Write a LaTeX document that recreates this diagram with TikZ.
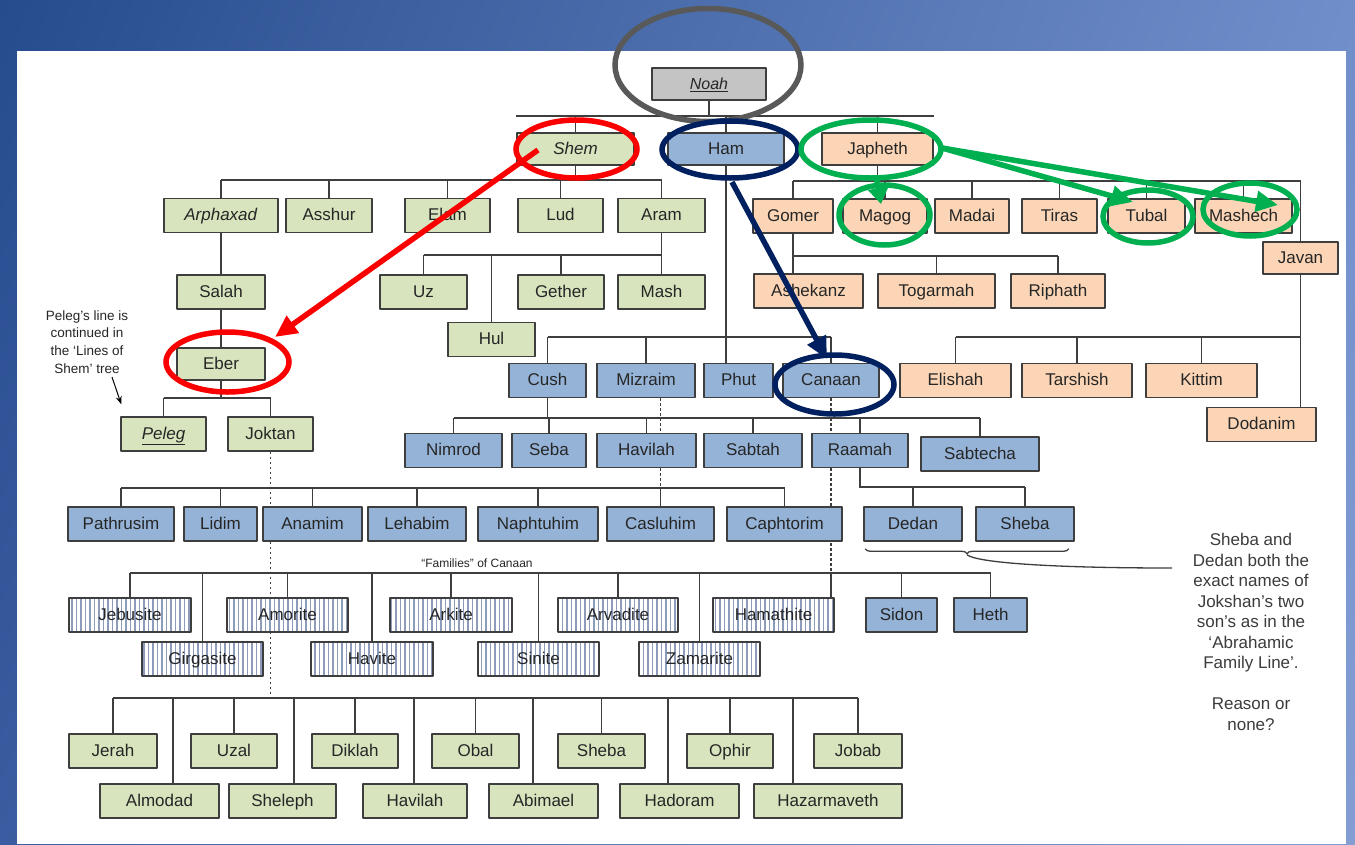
\documentclass[tikz,border=0pt]{standalone}
\usepackage{fontspec}
\setmainfont{Liberation Sans}
\usetikzlibrary{shapes.geometric,arrows.meta,patterns.meta,decorations.pathreplacing,shadings}
\definecolor{bgul}{RGB}{38,76,142}
\definecolor{bgur}{RGB}{112,142,202}
\definecolor{bgll}{RGB}{58,92,160}
\definecolor{bglr}{RGB}{132,158,212}
\definecolor{shemfill}{RGB}{215,228,189}
\definecolor{hamfill}{RGB}{149,179,215}
\definecolor{japhfill}{RGB}{251,213,181}
\definecolor{noahfill}{RGB}{196,196,196}
\definecolor{stripe}{RGB}{140,156,186}
\definecolor{edge}{RGB}{62,62,62}
\definecolor{ink}{RGB}{38,38,38}
\definecolor{ringgray}{RGB}{89,89,89}
\definecolor{ringred}{RGB}{250,0,0}
\definecolor{ringnavy}{RGB}{0,32,96}
\definecolor{ringgreen}{RGB}{0,176,80}
\pgfdeclarelayer{back}
\pgfdeclarelayer{lines}
\pgfdeclarelayer{front}
\pgfsetlayers{back,lines,main,front}
\begin{document}
\begin{tikzpicture}[x=1pt, y=-1pt, line join=round,
    namebox/.style={draw=edge, line width=1.5pt, minimum height=34, inner sep=0pt, text height=12.5pt, text depth=2pt, text=ink, font=\fontsize{17}{20}\selectfont},
    shembox/.style={namebox, fill=shemfill},
    hambox/.style={namebox, fill=hamfill},
    japhbox/.style={namebox, fill=japhfill},
    clanbox/.style={namebox, preaction={fill=white}, pattern={Lines[angle=90, distance=4.5pt, line width=1.7pt]}, pattern color=stripe},
    link/.style={draw=edge, line width=1.5pt},
    dotlink/.style={link, dash pattern=on 2.5pt off 2.5pt},
    ring/.style={draw=#1, line width=5.5pt, ellipse, inner sep=0pt},
    pointer/.style={draw=#1, line width=5.5pt, -{Triangle[length=22pt, width=20pt]}}]
\useasboundingbox (0,0) rectangle (1355,844);
\begin{pgfonlayer}{back}
  \shade[upper left=bgul, upper right=bgur, lower left=bgll, lower right=bglr] (0,0) rectangle (1355,844);
  \fill[white] (17,51) rectangle (1346,844);
\end{pgfonlayer}

% Noah and his sons
\node[namebox, fill=noahfill, minimum width=114, minimum height=32, font=\fontsize{16}{19}\selectfont] (noah) at (709,84) {\underline{\textit{Noah}}};
\node[shembox, minimum width=117, minimum height=32] (shem) at (575.5,149) {\textit{Shem}};
\node[hambox, minimum width=116, minimum height=32] (ham) at (726,149) {Ham};
\node[japhbox, minimum width=111, minimum height=32] (japheth) at (877.5,149) {Japheth};

% line of Shem
\foreach \n/\x/\w/\lbl in {arphaxad/221/114/\textit{Arphaxad}, asshur/329/86/Asshur, elam/447.5/85/Elam, lud/560.5/85/Lud, aram/661.5/87/Aram}
  \node[shembox, minimum width=\w] (\n) at (\x,215.5) {\lbl};
\foreach \n/\x/\w/\lbl in {salah/221/88/Salah, uz/423.5/87/Uz, gether/561/86/Gether, mash/661.5/87/Mash}
  \node[shembox, minimum width=\w] (\n) at (\x,292) {\lbl};
\node[shembox, minimum width=87] (hul) at (491.5,339.5) {Hul};
\node[shembox, minimum width=88, minimum height=32] (eber) at (221,364) {Eber};
\node[shembox, minimum width=85] (peleg) at (163.5,434) {\underline{\textit{Peleg}}};
\node[shembox, minimum width=85] (joktan) at (270.5,434) {Joktan};
\foreach \n/\x/\w/\lbl in {jerah/113/88/Jerah, uzal/234/86/Uzal, diklah/355/86/Diklah, obal/475.5/87/Obal, shebaj/601.5/87/Sheba, ophir/730/86/Ophir, jobab/858/88/Jobab}
  \node[shembox, minimum width=\w] (\n) at (\x,751) {\lbl};
\foreach \n/\x/\w/\lbl in {almodad/159.5/119/Almodad, sheleph/282.5/107/Sheleph, havilahj/415/104/Havilah, abimael/543.5/109/Abimael, hadoram/679.5/119/Hadoram, hazarmaveth/828/148/Hazarmaveth}
  \node[shembox, minimum width=\w] (\n) at (\x,801) {\lbl};

% line of Ham
\foreach \n/\x/\w/\lbl in {cush/547.5/77/Cush, mizraim/646/98/Mizraim, phut/738.5/69/Phut, canaan/831/96/Canaan}
  \node[hambox, minimum width=\w] (\n) at (\x,380.5) {\lbl};
\foreach \n/\x/\w/\lbl in {nimrod/453.5/97/Nimrod, seba/549/74/Seba, havilahc/646.5/99/Havilah, sabtah/753/98/Sabtah, raamah/860/96/Raamah}
  \node[hambox, minimum width=\w] (\n) at (\x,450.5) {\lbl};
\node[hambox, minimum width=118] (sabtecha) at (980,454) {Sabtecha};
\foreach \n/\x/\w/\lbl in {pathrusim/121/106/Pathrusim, lidim/220.5/73/Lidim, anamim/312.5/99/Anamim, lehabim/417/98/Lehabim, naphtuhim/538/120/Naphtuhim, casluhim/660.5/107/Casluhim, caphtorim/784.5/115/Caphtorim, dedan/913/98/Dedan, shebar/1025/98/Sheba}
  \node[hambox, minimum width=\w] (\n) at (\x,524) {\lbl};
\foreach \n/\x/\w/\lbl in {jebusite/130/122/Jebusite, amorite/287.5/121/Amorite, arkite/451/122/Arkite, arvadite/618/120/Arvadite, hamathite/773.5/121/Hamathite}
  \node[clanbox, minimum width=\w] (\n) at (\x,615) {\lbl};
\node[hambox, minimum width=71] (sidon) at (901.5,615) {Sidon};
\node[hambox, minimum width=73] (heth) at (990.5,615) {Heth};
\foreach \n/\x/\w/\lbl in {girgasite/202.5/121/Girgasite, havite/372/122/Havite, sinite/538.5/121/Sinite, zamarite/699.5/121/Zamarite}
  \node[clanbox, minimum width=\w] (\n) at (\x,659) {\lbl};
\node[font=\fontsize{12}{14}\selectfont, text=ink] (famlabel) at (477,563) {“Families” of Canaan};

% line of Japheth
\foreach \n/\x/\w/\lbl in {gomer/793/80/Gomer, magog/885/84/Magog, madai/972/74/Madai, tiras/1059.5/75/Tiras, tubal/1146.5/77/Tubal, mashech/1243.5/97/Mashech}
  \node[japhbox, minimum width=\w] (\n) at (\x,216) {\lbl};
\node[japhbox, minimum width=75, minimum height=32] (javan) at (1300.5,258) {Javan};
\foreach \n/\x/\w/\lbl in {ashekanz/808.5/109/Ashekanz, togarmah/936.5/117/Togarmah, riphath/1058/94/Riphath}
  \node[japhbox, minimum width=\w] (\n) at (\x,291) {\lbl};
\foreach \n/\x/\w/\lbl in {elishah/955.5/111/Elishah, tarshish/1077/110/Tarshish, kittim/1201.5/111/Kittim}
  \node[japhbox, minimum width=\w] (\n) at (\x,380.5) {\lbl};
\node[japhbox, minimum width=109] (dodanim) at (1261.5,424.5) {Dodanim};

% notes
\node[font=\fontsize{13.5}{17.7}\selectfont, text=ink, align=center] (pelegnote) at (87,342) {Peleg’s line is\\continued in\\the ‘Lines of\\Shem’ tree};
\node[font=\fontsize{17}{20.5}\selectfont, text=ink!90, align=center] (note) at (1251,632) {Sheba and\\Dedan both the\\exact names of\\Jokshan’s two\\son’s as in the\\‘Abrahamic\\Family Line’.\\[20.5pt]Reason or\\none?};

\begin{pgfonlayer}{lines}
  \coordinate (noahbus) at (0,116);
  \coordinate (shembus) at (0,180);
  \coordinate (japhbus) at (0,181);
  \coordinate (arambus) at (0,255);
  \coordinate (gomerbus) at (0,256);
  \coordinate (hambus) at (0,337);
  \coordinate (javanbus) at (0,337);
  \coordinate (eberbus) at (0,398);
  \coordinate (cushbus) at (0,418);
  \coordinate (raambus) at (0,487);
  \coordinate (mizbus) at (0,488);
  \coordinate (canbus) at (0,573);
  \coordinate (jokbus) at (0,698);
  % Noah
  \draw[link] (noah.south) -- (noah.south |- noahbus);
  \draw[link] (shem.north west |- noahbus) -- (japheth.north east |- noahbus);
  \foreach \c in {shem,ham,japheth} \draw[link] (\c.north) -- (\c.north |- noahbus);
  % Shem
  \draw[link] (shem.south) -- (shem.south |- shembus);
  \draw[link] (arphaxad.north |- shembus) -- (aram.north |- shembus);
  \foreach \c in {arphaxad,asshur,elam,lud,aram} \draw[link] (\c.north) -- (\c.north |- shembus);
  \draw[link] (arphaxad.south) -- (salah.north) (salah.south) -- (eber.north);
  \draw[link] (aram.south) -- (mash.north);
  \draw[link] (uz.north |- arambus) -- (aram.south |- arambus);
  \foreach \c in {uz,hul,gether} \draw[link] (\c.north) -- (\c.north |- arambus);
  \draw[link] (eber.south) -- (eber.south |- eberbus);
  \draw[link] (peleg.north |- eberbus) -- (joktan.north |- eberbus);
  \foreach \c in {peleg,joktan} \draw[link] (\c.north) -- (\c.north |- eberbus);
  \draw[dotlink] (joktan.south) -- (joktan.south |- jokbus);
  \draw[link] (jerah.north |- jokbus) -- (jobab.north |- jokbus);
  \foreach \c in {jerah,uzal,diklah,obal,shebaj,ophir,jobab} \draw[link] (\c.north) -- (\c.north |- jokbus);
  \foreach \c/\dx in {almodad/13.5,sheleph/11.5,havilahj/-1,abimael/-10.5,hadoram/-11.5,hazarmaveth/-35} {
    \path ([xshift=\dx pt]\c.north) coordinate (tick);
    \draw[link] (tick) -- (tick |- jokbus);
  }
  % Ham
  \draw[link] (ham.south) -- (ham.south |- phut.north);
  \draw[link] (cush.north |- hambus) -- (canaan.north |- hambus);
  \foreach \c in {cush,mizraim,canaan} \draw[link] (\c.north) -- (\c.north |- hambus);
  \draw[link] (cush.south) -- (cush.south |- cushbus);
  \draw[link] (nimrod.north |- cushbus) -- (sabtecha.north |- cushbus);
  \foreach \c in {nimrod,seba,havilahc,sabtah,raamah,sabtecha} \draw[link] (\c.north) -- (\c.north |- cushbus);
  \draw[dotlink] (mizraim.south -| casluhim.north) -- (casluhim.north |- mizbus);
  \draw[link] (pathrusim.north |- mizbus) -- (caphtorim.north |- mizbus);
  \foreach \c in {pathrusim,lidim,anamim,lehabim,naphtuhim,casluhim,caphtorim} \draw[link] (\c.north) -- (\c.north |- mizbus);
  \draw[link] (raamah.south) -- (raamah.south |- raambus) -- (shebar.north |- raambus);
  \foreach \c in {dedan,shebar} \draw[link] (\c.north) -- (\c.north |- raambus);
  \draw[dotlink] (canaan.south) -- (canaan.south |- canbus);
  \draw[link] (canaan.south |- canbus) -- (canaan.south |- hamathite.north);
  \draw[link] (jebusite.north |- canbus) -- (heth.north |- canbus);
  \foreach \c in {jebusite,amorite,arkite,arvadite,sidon,heth,girgasite,havite,sinite,zamarite} \draw[link] (\c.north) -- (\c.north |- canbus);
  % Japheth
  \draw[link] (japheth.south) -- (japheth.south |- japhbus);
  \draw[link] (gomer.north |- japhbus) -- (javan.north |- japhbus);
  \foreach \c in {gomer,magog,madai,tiras,tubal,mashech,javan} \draw[link] (\c.north) -- (\c.north |- japhbus);
  \draw[link] (gomer.south) -- (gomer.south |- ashekanz.north);
  \draw[link] (gomer.south |- gomerbus) -- (riphath.north |- gomerbus);
  \foreach \c in {togarmah,riphath} \draw[link] (\c.north) -- (\c.north |- gomerbus);
  \draw[link] (javan.south) -- (javan.south |- dodanim.north);
  \draw[link] (elishah.north |- javanbus) -- (javan.south |- javanbus);
  \foreach \c in {elishah,tarshish,kittim} \draw[link] (\c.north) -- (\c.north |- javanbus);
  % brace under Dedan and Sheba
  \coordinate (bracel) at ([shift={(2,7)}]dedan.south west);
  \coordinate (bracer) at ([shift={(-6,7)}]shebar.south east);
  \draw[draw=edge, line width=1.3pt, decorate, decoration={brace, mirror, amplitude=5pt}] (bracel) -- (bracer);
  \path (bracel) -- (bracer) coordinate[pos=0.5] (bracemid);
  \coordinate (noteend) at (1172,568);
  \draw[draw=edge, line width=1.3pt] ([yshift=-6pt]bracemid) .. controls +(10,8) and +(-120,0) .. (noteend);
  \draw[line width=1pt, -{Stealth[length=8pt, width=6pt]}] ([xshift=25pt]pelegnote.south) -- ([shift={(1,-12)}]peleg.north west);
\end{pgfonlayer}

\begin{pgfonlayer}{front}
  \node[ring=ringgray, minimum width=186, minimum height=113] (noahring) at (708,65) {};
  \node[ring=ringred, minimum width=121, minimum height=58] (shemring) at (576.5,149) {};
  \node[ring=ringnavy, minimum width=136, minimum height=57] (hamring) at (730,149.5) {};
  \node[ring=ringgreen, minimum width=140, minimum height=58] (japhring) at (871,149) {};
  \node[ring=ringred, minimum width=123, minimum height=60] (eberring) at (227.5,362) {};
  \node[ring=ringnavy, minimum width=119, minimum height=59] (canaanring) at (834.5,384.5) {};
  \node[ring=ringgreen, minimum width=91, minimum height=60] (magogring) at (884.5,215) {};
  \node[ring=ringgreen, minimum width=90, minimum height=53] (tubalring) at (1148,216.5) {};
  \node[ring=ringgreen, minimum width=94, minimum height=53] (mashechring) at (1250,209.5) {};
  \draw[pointer=ringred] ([shift={(-38.5,1)}]shemring.center) -- ([shift={(47.5,-25)}]eberring.center);
  \draw[pointer=ringnavy] ([shift={(2,32.5)}]hamring.center) -- ([shift={(-7.5,-25.5)}]canaanring.center);
  \draw[pointer=ringgreen] ([shift={(71,-1)}]japhring.center) -- ([shift={(-15,-14.5)}]tubalring.center);
  \draw[pointer=ringgreen] ([shift={(71,-1)}]japhring.center) -- ([shift={(28,-4.5)}]mashechring.center);
  \draw[pointer=ringgreen, -{Triangle[length=16pt, width=20pt]}] ([shift={(5,27)}]japhring.center) -- ([shift={(-3.5,-11)}]magogring.center);
\end{pgfonlayer}
\end{tikzpicture}
\end{document}
